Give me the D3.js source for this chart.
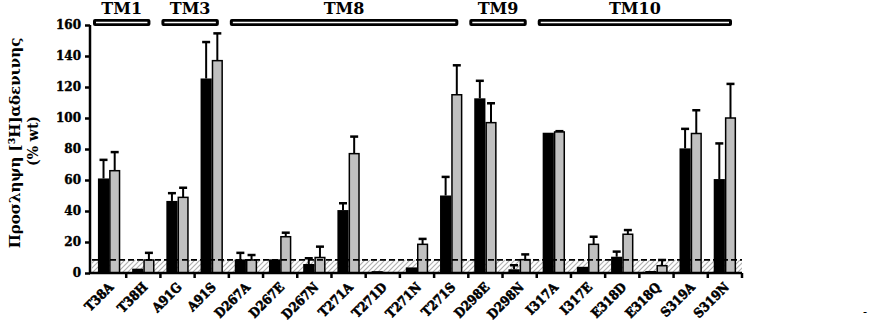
<!DOCTYPE html>
<html><head><meta charset="utf-8">
<script src="https://cdn.jsdelivr.net/npm/d3@7"></script>
<style>
html,body{margin:0;padding:0;background:#fff;}
svg{display:block;}
</style></head>
<body>
<svg id="chart" width="869" height="323"></svg>
<script>
const categories = ["T38A","T38H","A91G","A91S","D267A","D267E","D267N","T271A","T271D","T271N","T271S","D298E","D298N","I317A","I317E","E318D","E318Q","S319A","S319N"];
const blackValues = [61, 2.8, 46.5, 125.5, 8.8, 8.8, 5.8, 40.6, 1.2, 3.6, 50, 112.7, 2.4, 90.5, 4, 10.5, 1.3, 80.4, 60.6];
const blackErrors = [12, 0, 5, 23.5, 4.2, 0, 3.7, 4.4, 0, 0, 12, 11.3, 2.6, 0, 0, 3.3, 0, 12.6, 23];
const greyValues = [66, 8.4, 48.8, 137, 8.4, 23.4, 10, 77, 0, 18.5, 115, 97, 8.6, 91, 18.5, 25, 4.7, 90, 100];
const greyErrors = [12, 4.6, 6.2, 17.6, 3.2, 2.6, 7, 11, 0, 3.5, 19, 12.5, 3.4, 0.5, 4.9, 2.7, 3.7, 15, 22];
const yTicks = [0, 20, 40, 60, 80, 100, 120, 140, 160];
const threshold = 8.5;
const groupNames = ["TM1","TM3","TM8","TM9","TM10"];
const groupFirst = ["T38A","A91G","D267A","D298E","I317A"];
const groupLast = ["T38H","A91S","T271S","D298N","S319N"];
const yLabel1 = "Προσληψη [³H]αδενινης";
const yLabel2 = "(% wt)";

const svg = d3.select("#chart");
const serif = "'DejaVu Serif', serif";

const y = d3.scaleLinear().domain([0,160]).range([273,25]);
const x = d3.scaleBand().domain(categories).range([92,742]).padding(0);
const x1 = d3.scaleBand().domain(["b","g"]).range([0, x.bandwidth()]).paddingInner(0).paddingOuter(0.53);

// hatch pattern
const defs = svg.append("defs");
const pat = defs.append("pattern").attr("id","hatch").attr("patternUnits","userSpaceOnUse")
  .attr("width",5).attr("height",5);
pat.append("path").attr("d","M-1,1 l2,-2 M0,5 l5,-5 M4,6 l2,-2").attr("stroke","#b0b0b0").attr("stroke-width",1.2);

const [x0r, x1r] = x.range();
svg.append("rect").attr("x",x0r).attr("y",y(threshold)).attr("width",x1r-x0r).attr("height",y(0)-y(threshold))
  .attr("fill","url(#hatch)");

// bars
const data = categories.map((c,i)=>({c, b:blackValues[i], be:blackErrors[i], g:greyValues[i], ge:greyErrors[i]}));
const gBars = svg.append("g");
data.forEach(d=>{
  const bx = x(d.c)+x1("b"), gx = x(d.c)+x1("g"), w = x1.bandwidth();
  [[bx,d.b,d.be],[gx,d.g,d.ge]].forEach(([px,v,e])=>{
    if(e>0){
      const cx = px + w/2;
      gBars.append("line").attr("x1",cx).attr("x2",cx).attr("y1",y(v)).attr("y2",y(v+e))
        .attr("stroke","#000").attr("stroke-width",2);
      gBars.append("line").attr("x1",cx-4).attr("x2",cx+4).attr("y1",y(v+e)).attr("y2",y(v+e))
        .attr("stroke","#000").attr("stroke-width",2.5);
    }
  });
  if(d.b>0) gBars.append("rect").attr("x",bx).attr("y",y(d.b)).attr("width",w).attr("height",y(0)-y(d.b))
    .attr("fill","#000");
  if(d.g>0) gBars.append("rect").attr("x",gx+0.75).attr("y",y(d.g)).attr("width",w-1.5).attr("height",y(0)-y(d.g))
    .attr("fill","#c0c0c0").attr("stroke","#000").attr("stroke-width",1.5);
});

// dashed threshold line
svg.append("line").attr("x1",x0r).attr("x2",x1r).attr("y1",y(threshold)).attr("y2",y(threshold))
  .attr("stroke","#000").attr("stroke-width",1.8).attr("stroke-dasharray","6,3");

// y axis
const yAxis = svg.append("g").attr("transform","translate(90,0)")
  .call(d3.axisLeft(y).tickValues(yTicks).tickSize(5).tickPadding(4).tickFormat(d3.format("d")));
yAxis.select(".domain").attr("stroke-width",2.5).attr("d",`M0,${y(0)+1}V${y(160)}`);
yAxis.selectAll(".tick line").attr("stroke-width",2.5);
yAxis.selectAll(".tick text").attr("font-family",serif).attr("font-weight","bold").attr("font-size",12)
  .attr("fill","#000").attr("stroke","#000").attr("stroke-width",0.4);

// x axis
svg.append("line").attr("x1",89).attr("x2",x1r).attr("y1",y(0)).attr("y2",y(0)).attr("stroke","#000").attr("stroke-width",2.5);
const bounds = categories.map(c=>x(c)).concat([x1r]);
svg.append("g").selectAll("line").data(bounds.slice(1)).join("line")
  .attr("x1",d=>d).attr("x2",d=>d).attr("y1",y(0)).attr("y2",y(0)+5).attr("stroke","#000").attr("stroke-width",2.5);

svg.append("g").selectAll("text").data(categories).join("text")
  .attr("transform",d=>`translate(${x(d)+x.bandwidth()/2+5},${y(0)+15}) rotate(-45) scale(0.9,1)`)
  .attr("text-anchor","end").attr("font-family",serif).attr("font-weight","bold").attr("font-size",13)
  .attr("fill","#000").attr("stroke","#000").attr("stroke-width",0.6).text(d=>d);

// y label
svg.append("text").attr("transform","translate(20,143) rotate(-90)").attr("text-anchor","middle")
  .attr("font-family",serif).attr("font-weight","bold").attr("font-size",15).text(yLabel1);
svg.append("text").attr("transform","translate(38,141) rotate(-90)").attr("text-anchor","middle")
  .attr("font-family",serif).attr("font-weight","bold").attr("font-size",14).text(yLabel2);

// group headers
groupNames.forEach((n,i)=>{
  const s = x(groupFirst[i])+1, e = x(groupLast[i])+x.bandwidth()-10;
  svg.append("rect").attr("x",s).attr("y",19).attr("width",e-s).attr("height",7).attr("rx",2).attr("fill","#000");
  svg.append("line").attr("x1",s+3).attr("x2",e-3).attr("y1",22.5).attr("y2",22.5).attr("stroke","#fff").attr("stroke-width",1.5);
  svg.append("text").attr("x",(s+e)/2).attr("y",14).attr("text-anchor","middle")
    .attr("font-family",serif).attr("font-weight","bold").attr("font-size",16).text(n);
});

svg.append("text").attr("x",865).attr("y",316).attr("text-anchor","middle").attr("font-family",serif).attr("font-size",12).text("-");
</script>
</body></html>
